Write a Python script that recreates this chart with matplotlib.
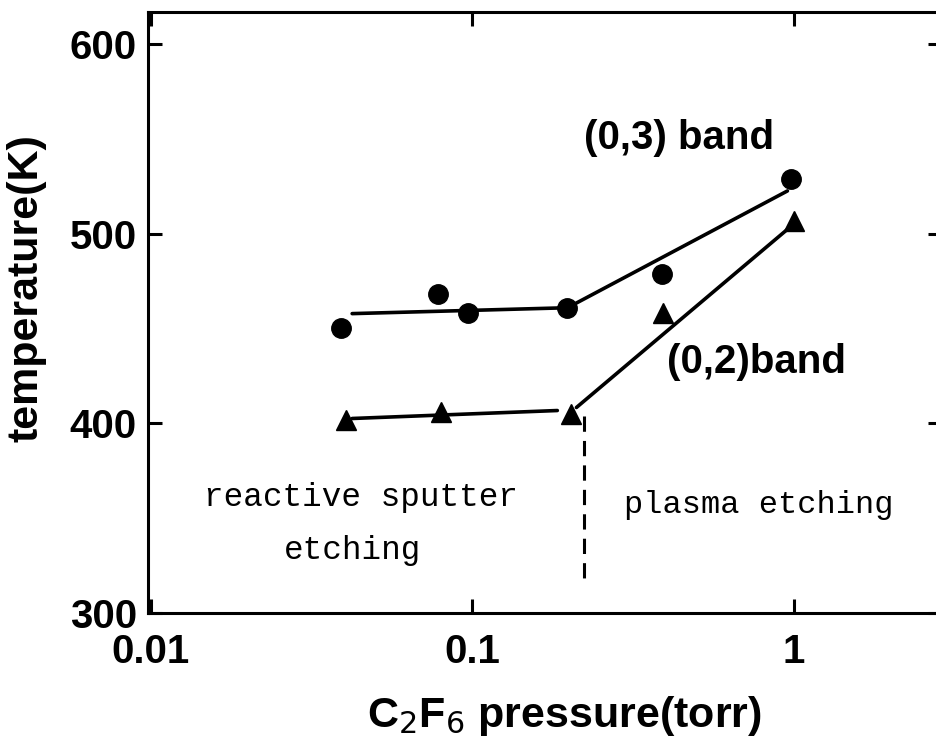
import matplotlib
matplotlib.use("Agg")
import matplotlib.pyplot as plt

# measured points, (0,3) band -> circles, (0,2) band -> triangles
p03 = [0.039, 0.078, 0.097, 0.197, 0.39, 0.98]
t03 = [450.5, 468.4, 458.4, 461.0, 479.0, 529.0]
p02 = [0.0405, 0.080, 0.203, 0.391, 1.0]
t02 = [402.0, 405.8, 405.0, 458.0, 507.0]

# hand-drawn fit lines
fit03_p = [0.0423, 0.198, 0.957]
fit03_t = [457.9, 461.0, 522.6]
fit02a_p = [0.0423, 0.184]
fit02a_t = [402.6, 406.8]
fit02b_p = [0.211, 0.97]
fit02b_t = [408.4, 503.2]

# regime boundary
bound_p = [0.223, 0.223]
bound_t = [404, 317]

xticks = [0.01, 0.1, 1]
xticklabels = ["0.01", "0.1", "1"]
yticks = [300, 400, 500, 600]

sans = "Liberation Sans"
mono = "Liberation Mono"

fig = plt.figure(figsize=(9.37, 7.44), dpi=100)
ax = fig.add_axes([0.158, 0.176, 0.847, 0.808])

lw = 2.6
ax.plot(fit03_p, fit03_t, color="black", lw=lw, solid_capstyle="round")
ax.plot(fit02a_p, fit02a_t, color="black", lw=lw, solid_capstyle="round")
ax.plot(fit02b_p, fit02b_t, color="black", lw=lw, solid_capstyle="round")
ax.plot(p03, t03, "o", color="black", ms=14)
ax.plot(p02, t02, "^", color="black", ms=15)
ax.plot(bound_p, bound_t, color="black", lw=2.2, ls=(0, (5, 3)))

ax.set_xscale("log")
ax.set_xlim(0.0098, 2.89)
ax.set_ylim(300, 617)
ax.set_xticks(xticks)
ax.set_xticklabels(xticklabels)
ax.set_yticks(yticks)
ax.minorticks_off()

for s in ax.spines.values():
    s.set_linewidth(2.2)

ax.tick_params(which="major", direction="in", length=10, width=2.2,
               top=True, right=True, labelsize=29)
ax.tick_params(axis="y", pad=8)
ax.tick_params(axis="x", pad=14)
for lab in ax.get_xticklabels() + ax.get_yticklabels():
    lab.set_fontfamily(sans)
    lab.set_fontweight("bold")

ax.set_ylabel("temperature(K)", fontsize=31, fontfamily=sans,
              fontweight="bold", labelpad=14)
ax.yaxis.set_label_coords(-0.128, 0.54)
ax.set_xlabel("C$_2$F$_6$ pressure(torr)", fontsize=31, fontfamily=sans,
              fontweight="bold", labelpad=10)
ax.xaxis.set_label_coords(0.525, -0.135)

ax.text(0.223, 544.7, "(0,3) band", fontsize=29, fontfamily=sans,
        fontweight="bold", ha="left", va="baseline")
ax.text(0.405, 426.8, "(0,2)band", fontsize=29, fontfamily=sans,
        fontweight="bold", ha="left", va="baseline")

ax.text(0.0146, 361, "reactive sputter", fontsize=23.5, fontfamily=mono,
        ha="left", va="center")
ax.text(0.026, 333, "etching", fontsize=23.5, fontfamily=mono,
        ha="left", va="center")
ax.text(0.297, 357, "plasma etching", fontsize=23, fontfamily=mono,
        ha="left", va="center")

fig.savefig("out.png", dpi=100)
